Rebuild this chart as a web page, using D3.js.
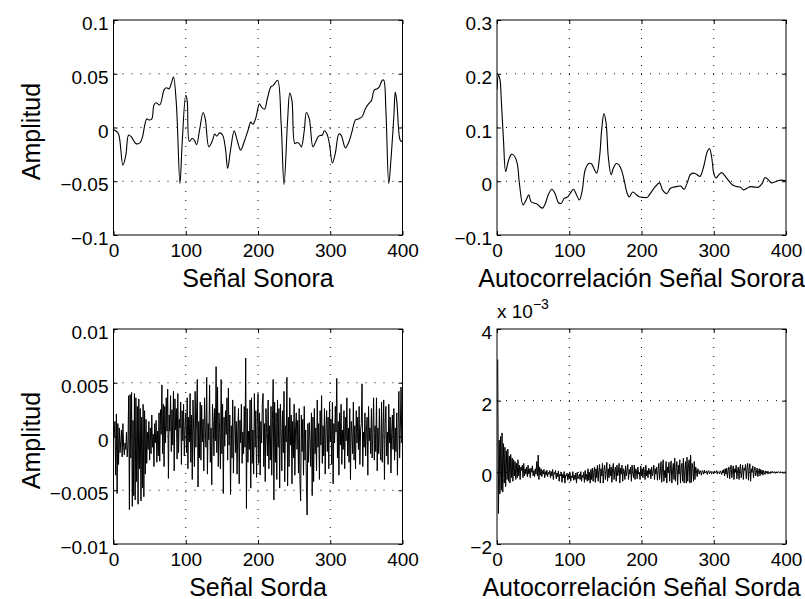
<!DOCTYPE html>
<html>
<head>
<meta charset="utf-8">
<script src="https://cdnjs.cloudflare.com/ajax/libs/d3/7.8.5/d3.min.js"></script>
<style>
    body {
        margin: 0;
        background: #fff;
    }

    svg {
        display: block;
        font-family: 'Liberation Sans', Arial, Helvetica, sans-serif;
    }

    .tick text {
        font-size: 19px;
        fill: #000;
    }

    .lbl {
        font-size: 25px;
        fill: #000;
    }
</style>
</head>

<body>
<svg id="chart" width="805" height="599"></svg>

<script>
    // --- datos ---
    // senal sonora (muestra, amplitud)
    const sonoraN = [0, 3, 7, 13, 17, 21, 25, 31, 37, 40, 46, 49, 53, 56, 59, 64, 70, 73, 77, 80,
        83, 87, 92, 95, 100, 102, 105, 109, 112, 115, 119, 124, 127, 132, 137, 140, 143, 147, 151, 155,
        158, 162, 167, 170, 176, 181, 186, 190, 193, 197, 202, 205, 209, 213, 218, 221, 227, 232, 236, 241,
        244, 247, 251, 254, 257, 260, 264, 267, 271, 276, 280, 284, 289, 292, 296, 299, 303, 307, 312, 315,
        321, 326, 330, 335, 339, 344, 349, 353, 357, 361, 365, 368, 372, 374, 377, 381, 384, 388, 390, 392,
        396, 398, 400];
    const sonoraV = [-0.002, -0.003, -0.006, -0.035, -0.026, -0.007, -0.009, -0.015, -0.014, -0.009,
        0.008, 0.007, 0.008, 0.021, 0.023, 0.021, 0.035, 0.037, 0.036, 0.041,
        0.047, 0.022, -0.052, -0.015, 0.030, 0.025, -0.013, -0.010, -0.012, -0.016,
        -0.003, 0.014, 0.008, -0.018, -0.012, -0.006, -0.008, -0.005, -0.007, -0.020,
        -0.038, -0.021, -0.003, -0.009, -0.021, -0.013, -0.003, 0.005, 0.003, 0.009,
        0.022, 0.019, 0.017, 0.027, 0.038, 0.039, 0.044, 0.004, -0.053, 0.007,
        0.032, 0.025, -0.015, -0.014, -0.015, -0.018, -0.003, 0.014, 0.008, -0.018,
        -0.013, -0.008, -0.007, -0.003, -0.007, -0.016, -0.033, -0.024, -0.006, -0.007,
        -0.019, -0.013, -0.004, 0.007, 0.008, 0.010, 0.018, 0.022, 0.025, 0.035,
        0.036, 0.038, 0.044, 0.044, 0.016, -0.052, -0.030, 0.010, 0.033, 0.025,
        -0.010, -0.013, -0.012];

    // autocorrelacion de la senal sonora
    const acSonoraN = [0, 2, 4, 6, 9, 12, 16, 20, 24, 28, 31, 36, 40, 44, 47, 52, 55, 59, 63, 67,
        71, 76, 81, 85, 89, 93, 98, 102, 106, 110, 114, 118, 122, 127, 131, 134, 138, 142, 145, 148,
        151, 154, 158, 161, 165, 169, 173, 176, 180, 183, 188, 193, 197, 202, 208, 211, 219, 225, 229, 235,
        240, 248, 254, 259, 263, 268, 273, 277, 281, 286, 291, 294, 297, 300, 303, 307, 311, 316, 320, 326,
        332, 337, 341, 346, 351, 357, 362, 367, 371, 376, 380, 385, 391, 400];
    const acSonoraV = [0.17, 0.197, 0.19, 0.15, 0.076, 0.018, 0.039, 0.050, 0.047, 0.033,
        -0.004, -0.044, -0.036, -0.025, -0.038, -0.041, -0.042, -0.047, -0.050, -0.041,
        -0.025, -0.015, -0.025, -0.040, -0.041, -0.032, -0.029, -0.021, -0.015, -0.025,
        -0.035, -0.017, 0.021, 0.033, 0.032, 0.024, 0.015, 0.046, 0.098, 0.126,
        0.108, 0.046, 0.012, 0.024, 0.033, 0.030, 0.018, 0.002, -0.022, -0.029,
        -0.020, -0.025, -0.029, -0.030, -0.030, -0.025, -0.010, -0.003, -0.016, -0.023,
        -0.013, -0.010, -0.009, -0.015, -0.004, 0.013, 0.015, 0.012, 0.009, 0.027,
        0.055, 0.061, 0.046, 0.015, 0.006, 0.012, 0.016, 0.009, 0.002, -0.007,
        -0.010, -0.011, -0.016, -0.013, -0.010, -0.011, -0.011, -0.004, 0.007, 0.002,
        -0.003, -0.001, 0.002, 0.001];

    // senal sorda, muestras 1..401 (x 10^-3)
    const sordaV = [
        0.0, 1.4, -3.6, 2.1, -5.3, 1.2, -2.6, 0.8, -1.5, -0.5, 0.6, -1.9, 1.2, -1.0, -1.7, -0.6, -1.2, 0.4, -1.9, -0.8,
        3.8, -6.8, 3.9, -2.0, 4.1, -6.5, 1.5, -5.5, 4.0, -5.9, 3.6, -4.2, 2.8, -6.3, 3.5, -3.0, 2.6, -6.0, 1.8, -4.8,
        3.0, -5.6, 2.4, -3.5, 1.6, -2.5, 0.4, -1.2, 1.4, -2.2, 0.8, -1.6, 2.0, -1.0, 0.2, -2.8, 1.2, -0.6, 1.5, -2.4,
        0.5, -1.8, 2.2, -2.3, 2.5, 0.2, 4.8, -1.6, 3.0, -2.8, 2.8, -0.6, 3.6, 0.5, 4.4, -3.9, 2.0, 0.5, 3.8, -1.4,
        2.5, -0.8, 4.2, -3.2, 3.5, 0.6, 2.6, -2.1, 4.0, -1.5, 1.6, 0.8, 3.2, -2.6, 2.4, -0.4, 3.0, -1.8, 1.0, 2.2,
        -1.5, 3.6, -3.0, 1.8, -0.5, 4.0, -2.4, 2.0, -4.0, 3.4, 0.5, -2.8, 4.2, -1.0, 2.2, 5.3, -4.7, 1.4, -2.0, 3.2,
        -2.2, 2.9, -0.5, 1.6, -3.2, 3.6, 0.6, -1.0, 5.5, -3.5, 1.2, -0.3, 4.8, -2.4, 0.8, -4.5, 3.0, 1.5, -1.8, 2.6,
        -0.4, 6.5, -1.5, 4.6, -2.8, 2.2, 0.4, -3.0, 5.3, -1.6, 3.0, -5.3, 1.8, -0.9, 2.4, 0.2, 3.6, -2.2, 4.5, -0.8,
        2.0, -5.4, 1.0, -2.0, 3.4, -3.4, 0.8, 2.8, -1.5, 1.4, -3.5, 0.5, 2.6, -4.4, 1.5, -0.6, 3.0, -2.5, 0.4, -1.6,
        2.8, -1.0, 7.3, -6.7, 2.6, -2.4, 0.5, -1.2, 3.4, -4.8, 3.6, -2.5, 0.6, -3.5, 4.0, -1.0, 2.4, -3.8, 1.0, 4.0,
        -2.5, 2.2, -3.6, 1.4, -0.6, 3.0, 4.0, -2.8, 1.2, -4.2, 2.6, 0.4, -1.8, 3.4, -3.0, 1.0, -2.2, 2.8, -3.6, 1.6,
        5.3, -5.9, 3.2, -2.4, 2.2, -4.0, 3.4, -1.0, 2.6, -4.8, 3.0, 0.6, -3.2, 2.4, -1.5, 4.2, -4.2, 1.0, -0.5, 5.5,
        -4.6, 1.8, -2.8, 3.6, -0.8, 2.0, -4.4, 1.4, -2.0, 3.0, -3.6, 0.8, 2.2, -1.2, 1.5, -3.4, 2.6, -4.0, -6.0, 2.0,
        -1.4, 1.6, -3.6, 2.8, -2.2, 0.6, -4.5, -7.3, 1.2, -2.4, 1.3, -0.4, -2.8, 2.2, -5.5, 1.8, -4.2, 2.6, -1.6, 0.8,
        -3.2, 3.4, -1.0, 1.2, -4.0, 2.4, -0.8, 3.8, -2.5, 1.0, -1.8, 2.6, -3.5, 0.6, 2.4, -1.4, 1.8, -3.0, 3.2, -0.5,
        1.6, -2.6, 3.2, -4.4, 1.2, -0.6, 2.8, 0.4, 5.4, -2.0, 1.4, -3.6, 2.2, -0.8, 3.0, -2.6, 0.6, -1.2, 2.4, -3.0,
        1.8, -0.4, 3.6, -1.8, 0.8, -2.4, 2.6, -4.0, 1.4, 0.2, -1.6, 3.2, -2.2, 1.0, -3.0, 2.4, -0.6, 1.8, -1.2, 2.8,
        -2.6, 0.6, 1.2, 4.9, -2.8, 0.4, -1.0, 2.2, -1.8, 0.6, 1.8, -3.6, 2.8, -0.4, 0.8, -1.6, 2.6, -2.0, 0.4, 3.6,
        -2.2, 1.0, -1.4, 3.6, -3.2, 0.8, -1.6, 2.6, -1.0, -2.2, 3.2, -2.4, 0.6, 3.4, -4.0, 1.2, 2.8, -1.8, 0.4, -2.6,
        3.0, -0.6, 1.8, -3.4, 0.4, 2.0, -1.2, 2.6, -2.2, 0.8, -1.4, 2.2, -3.6, 1.2, 4.2, -2.0, 0.8, 4.6, -0.6, 0.4, 0.0
    ];

    // autocorrelacion de la senal sorda, retardos 1..401 (x 10^-3)
    const acSordaV = [
        3.15, -1.15, 0.9, -0.6, 1.0, -0.5, 1.1, -0.55, 0.8, -0.3, 0.7, -0.4, 0.6, -0.2, 0.65, -0.25, 0.45, -0.3, 0.5, -0.15,
        0.4, -0.25, 0.35, -0.1, 0.3, -0.2, 0.25, -0.15, 0.35, -0.1, 0.2, -0.2, 0.15, 0.05, 0.2, -0.15, 0.25, -0.1, 0.1, -0.05,
        0.15, -0.12, 0.2, -0.05, 0.1, -0.15, 0.12, 0.0, 0.18, -0.1, 0.05, -0.12, 0.1, -0.05, 0.3, -0.1, 0.48, -0.2, 0.15, -0.08,
        0.1, -0.12, 0.05, -0.05, 0.08, -0.15, 0.02, -0.08, 0.06, -0.12, 0.0, -0.05, 0.05, -0.15, 0.02, -0.1, 0.08, -0.2, 0.0, -0.05,
        0.05, -0.18, -0.02, -0.12, 0.04, -0.25, -0.05, -0.1, 0.0, -0.28, -0.05, -0.15, 0.02, -0.3, -0.08, -0.1, -0.02, -0.22, -0.05, -0.18,
        0.0, -0.25, -0.1, -0.15, 0.02, -0.22, -0.08, -0.2, -0.02, -0.3, 0.0, -0.18, -0.12, -0.05, -0.2, 0.02, -0.25, -0.08, -0.15, 0.0,
        -0.28, 0.05, -0.2, -0.05, -0.25, 0.1, -0.22, 0.0, -0.3, 0.08, -0.2, 0.12, -0.25, 0.0, 0.15, -0.28, 0.1, -0.15, 0.2, -0.25,
        0.05, 0.22, -0.3, 0.1, -0.1, 0.25, -0.3, 0.05, 0.2, -0.2, 0.0, 0.28, -0.25, 0.1, -0.15, 0.22, -0.1, 0.15, -0.28, 0.1,
        0.25, -0.2, 0.05, 0.15, -0.25, 0.2, -0.1, 0.0, 0.25, -0.3, 0.12, -0.05, 0.2, -0.25, 0.1, 0.05, -0.2, 0.18, -0.1, 0.05,
        0.22, -0.2, 0.08, -0.05, 0.15, -0.25, 0.2, 0.0, -0.15, 0.2, -0.2, 0.1, 0.05, -0.18, 0.15, -0.05, 0.0, -0.2, 0.18, -0.1,
        0.1, -0.15, 0.15, 0.0, -0.2, 0.2, -0.1, 0.05, -0.15, 0.12, -0.05, 0.08, -0.18, 0.15, -0.1, 0.0, 0.2, -0.2, 0.1, -0.05,
        0.15, -0.22, 0.05, 0.25, -0.2, 0.0, 0.3, -0.28, 0.1, 0.35, -0.25, 0.05, -0.15, 0.3, -0.3, 0.15, 0.0, 0.28, -0.25, 0.1,
        0.32, -0.3, 0.05, 0.25, -0.2, 0.4, -0.25, 0.1, 0.3, -0.35, 0.2, -0.05, 0.35, -0.3, 0.15, 0.25, -0.25, 0.4, -0.3, 0.05,
        0.3, -0.3, 0.42, -0.25, 0.2, 0.35, -0.3, 0.48, -0.28, 0.25, 0.1, -0.25, 0.3, -0.2, 0.15, 0.05, -0.12, 0.1, 0.0, -0.05,
        0.05, 0.0, -0.08, 0.05, 0.02, -0.05, 0.06, -0.02, 0.0, 0.04, -0.06, 0.02, 0.05, -0.04, 0.0, 0.03, -0.05, 0.02, 0.0, -0.03,
        0.04, -0.02, 0.0, 0.05, -0.05, 0.02, 0.0, -0.04, 0.04, 0.0, -0.06, 0.05, -0.02, 0.08, -0.1, 0.1, -0.05, 0.12, -0.15, 0.05,
        0.15, -0.18, 0.08, 0.2, -0.15, 0.05, 0.18, -0.2, 0.1, 0.0, 0.2, -0.18, 0.05, 0.15, -0.2, 0.1, 0.22, -0.15, 0.0, 0.2,
        -0.2, 0.12, 0.05, 0.22, -0.18, 0.1, 0.25, -0.22, 0.08, 0.24, -0.25, 0.1, 0.0, 0.18, -0.15, 0.05, 0.15, -0.1, 0.0, 0.12,
        -0.12, 0.05, 0.1, -0.1, 0.08, -0.05, 0.06, -0.08, 0.05, 0.0, -0.06, 0.04, -0.02, 0.03, -0.05, 0.02, 0.0, -0.04, 0.02, -0.02,
        0.03, -0.02, 0.0, 0.02, -0.03, 0.01, 0.0, -0.02, 0.02, 0.0, -0.01, 0.02, -0.02, 0.0, 0.01, -0.01, 0.0, 0.01, -0.01, 0.0, 0.0
    ];

    // ticks
    const xTicks = [0, 100, 200, 300, 400];
    const yTicksSonora = [-0.1, -0.05, 0, 0.05, 0.1];
    const yLabelsSonora = ['\u22120.1', '\u22120.05', '0', '0.05', '0.1'];
    const yTicksAcSonora = [-0.1, 0, 0.1, 0.2, 0.3];
    const yLabelsAcSonora = ['\u22120.1', '0', '0.1', '0.2', '0.3'];
    const yTicksSorda = [-10, -5, 0, 5, 10];
    const yLabelsSorda = ['\u22120.01', '\u22120.005', '0', '0.005', '0.01'];
    const yTicksAcSorda = [-2, 0, 2, 4];
    const yLabelsAcSorda = ['\u22122', '0', '2', '4'];

    // --- layout ---
    const colX = [113.5, 497];
    const colW = 289;
    const rowY = [20, 329];
    const rowH = 215;
    const tickLen = 4;

    const svg = d3.select('#chart');

    // matlab plot(v): the samples are numbered from 1
    const idx = d3.range(1, 402);

    const panels = [
        { col: 0, row: 0, xs: sonoraN, ys: sonoraV, yDomain: [-0.1, 0.1], yTicks: yTicksSonora, yLabels: yLabelsSonora,
            xlabel: 'Señal Sonora', ylabel: 'Amplitud', smooth: true },
        { col: 1, row: 0, xs: acSonoraN, ys: acSonoraV, yDomain: [-0.1, 0.3], yTicks: yTicksAcSonora, yLabels: yLabelsAcSonora,
            xlabel: 'Autocorrelación Señal Sorora', ylabel: null, smooth: true },
        { col: 0, row: 1, xs: idx, ys: sordaV, yDomain: [-10, 10], yTicks: yTicksSorda, yLabels: yLabelsSorda,
            xlabel: 'Señal Sorda', ylabel: 'Amplitud', smooth: false },
        { col: 1, row: 1, xs: idx, ys: acSordaV, yDomain: [-2, 4], yTicks: yTicksAcSorda, yLabels: yLabelsAcSorda,
            xlabel: 'Autocorrelación Señal Sorda', ylabel: null, smooth: false, exponent: '\u22123' }
    ];

    panels.forEach(function(p, k) {
        const g = svg.append('g')
            .attr('transform', 'translate(' + colX[p.col] + ',' + rowY[p.row] + ')');

        const x = d3.scaleLinear().domain([0, 400]).range([0, colW]);
        const y = d3.scaleLinear().domain(p.yDomain).range([rowH, 0]);

        g.append('clipPath').attr('id', 'clip' + k)
            .append('rect').attr('width', colW).attr('height', rowH);

        // dotted grid
        g.append('g').selectAll('line')
            .data(xTicks.slice(1, -1))
            .join('line')
            .attr('x1', d => x(d)).attr('x2', d => x(d))
            .attr('y1', 0).attr('y2', rowH)
            .attr('stroke', '#000').attr('stroke-width', 1)
            .attr('stroke-dasharray', '1,8');

        g.append('g').selectAll('line')
            .data(p.yTicks.slice(1, -1))
            .join('line')
            .attr('x1', 0).attr('x2', colW)
            .attr('y1', d => y(d)).attr('y2', d => y(d))
            .attr('stroke', '#000').attr('stroke-width', 1)
            .attr('stroke-dasharray', '1,8');

        // signal
        const line = d3.line()
            .x((d, i) => x(p.xs[i]))
            .y(d => y(d))
            .curve(p.smooth ? d3.curveCatmullRom : d3.curveLinear);

        g.append('path')
            .datum(p.ys)
            .attr('clip-path', 'url(#clip' + k + ')')
            .attr('fill', 'none')
            .attr('stroke', '#000')
            .attr('stroke-width', p.smooth ? 1.1 : 1)
            .attr('stroke-linejoin', 'round')
            .attr('d', line);

        // axes, ticks pointing inwards on all four sides
        const fmtY = d => p.yLabels[p.yTicks.indexOf(d)];

        g.append('g')
            .attr('transform', 'translate(0,' + rowH + ')')
            .call(d3.axisBottom(x).tickValues(xTicks).tickSize(-tickLen).tickPadding(9).tickFormat(d3.format('d')));
        g.append('g')
            .call(d3.axisTop(x).tickValues(xTicks).tickSize(-tickLen).tickFormat(''));
        g.append('g')
            .call(d3.axisLeft(y).tickValues(p.yTicks).tickSize(-tickLen).tickPadding(5).tickFormat(fmtY))
            .selectAll('text').attr('dy', '0.5em');
        g.append('g')
            .attr('transform', 'translate(' + colW + ',0)')
            .call(d3.axisRight(y).tickValues(p.yTicks).tickSize(-tickLen).tickFormat(''));

        g.selectAll('.domain').remove();
        g.selectAll('.tick line').attr('stroke', '#000');
        g.selectAll('.tick text').attr('font-size', null).attr('font-family', null);

        // box
        g.append('rect')
            .attr('width', colW).attr('height', rowH)
            .attr('fill', 'none').attr('stroke', '#000').attr('stroke-width', 1);

        // labels
        g.append('text')
            .attr('class', 'lbl')
            .attr('x', colW / 2)
            .attr('y', rowH + 51.5)
            .attr('text-anchor', 'middle')
            .text(p.xlabel);

        if (p.ylabel) {
            g.append('text')
                .attr('class', 'lbl')
                .attr('transform', 'translate(' + (40 - colX[p.col]) + ',' + (rowH / 2 + 4) + ')rotate(-90)')
                .attr('text-anchor', 'middle')
                .text(p.ylabel);
        }

        if (p.exponent) {
            const t = g.append('text')
                .attr('x', 0)
                .attr('y', -11)
                .attr('font-size', 19);
            t.append('tspan').text('x 10');
            t.append('tspan').attr('font-size', 14).attr('dy', -9).text(p.exponent);
        }
    });
</script>
</body>

</html>
